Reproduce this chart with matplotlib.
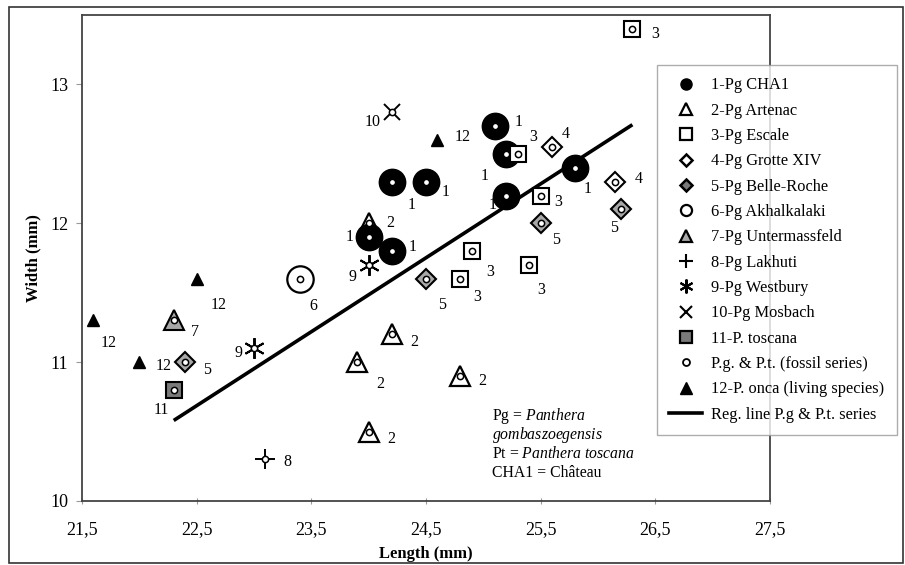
import matplotlib
matplotlib.use('Agg')
import matplotlib.pyplot as plt
from matplotlib.lines import Line2D
from matplotlib.patches import Rectangle

plt.rcParams['font.family'] = ['Liberation Serif', 'DejaVu Serif']
plt.rcParams['mathtext.fontset'] = 'custom'
plt.rcParams['mathtext.rm'] = 'Liberation Serif'
plt.rcParams['mathtext.it'] = 'Liberation Serif:italic'

# data (length, width in mm)
cha1_x = [25.1, 25.2, 24.2, 24.5, 25.2, 25.8, 24.0, 24.2]
cha1_y = [12.7, 12.5, 12.3, 12.3, 12.2, 12.4, 11.9, 11.8]
artenac_x = [24.0, 24.2, 23.9, 24.8, 24.0]
artenac_y = [12.0, 11.2, 11.0, 10.9, 10.5]
escale_x = [26.3, 25.3, 25.5, 24.9, 24.8, 25.4]
escale_y = [13.4, 12.5, 12.2, 11.8, 11.6, 11.7]
grotte_x = [25.6, 26.15]
grotte_y = [12.55, 12.3]
belle_x = [25.5, 26.2, 24.5, 22.4]
belle_y = [12.0, 12.1, 11.6, 11.0]
akhal_x = [23.4]
akhal_y = [11.6]
unterm_x = [22.3]
unterm_y = [11.3]
lakhuti_x = [23.1]
lakhuti_y = [10.3]
westbury_x = [23.0, 24.0]
westbury_y = [11.1, 11.7]
mosbach_x = [24.2]
mosbach_y = [12.8]
toscana_x = [22.3]
toscana_y = [10.8]
onca_x = [21.6, 22.0, 22.5, 24.6]
onca_y = [11.3, 11.0, 11.6, 12.6]
reg_x = [22.3, 26.3]
reg_y = [10.58, 12.71]

xticks = [21.5, 22.5, 23.5, 24.5, 25.5, 26.5, 27.5]
yticks = [10, 11, 12, 13]

# label placement next to each point (pixels, dy up)
off_cha1 = [(24, 4), (-22, -22), (20, -23), (20, -10), (-14, -9), (13, -21), (-19, 0), (21, 4)]
off_artenac = [(22, 0), (23, -8), (23, -22), (22, -5), (23, -7)]
off_escale = [(23, -5), (15, 17), (18, -6), (18, -21), (17, -18), (12, -25)]
off_grotte = [(14, 13), (24, 3)]
off_belle = [(15, -17), (-7, -19), (16, -26), (22, -8)]
off_akhal = [(13, -27)]
off_unterm = [(21, -12)]
off_lakhuti = [(22, -3)]
off_westbury = [(-16, -5), (-16, -12)]
off_mosbach = [(-19, -10)]
off_toscana = [(-12, -20)]
off_onca = [(15, -23), (24, -4), (22, -26), (25, 3)]

grey = '#a8a8a8'
dgrey = '#7a7a7a'
star = (6, 2, 0)

fig = plt.figure(figsize=(9.05, 5.65), dpi=100)
ax = fig.add_axes([82/905, 1-501/565, (770-82)/905, (501-15)/565])

ax.plot(reg_x, reg_y, color='black', lw=2.6, zorder=2, solid_capstyle='butt')

ax.plot(artenac_x, artenac_y, ls='none', marker='^', ms=15, mfc='white', mec='black', mew=1.6, zorder=3)
ax.plot(cha1_x, cha1_y, ls='none', marker='o', ms=19, mfc='black', mec='black', zorder=4)
ax.plot(escale_x, escale_y, ls='none', marker='s', ms=11, mfc='white', mec='black', mew=1.5, zorder=5)
ax.plot(grotte_x, grotte_y, ls='none', marker='D', ms=10, mfc='white', mec='black', mew=1.5, zorder=5)
ax.plot(belle_x, belle_y, ls='none', marker='D', ms=10, mfc=grey, mec='black', mew=1.5, zorder=5)
ax.plot(akhal_x, akhal_y, ls='none', marker='o', ms=19, mfc='white', mec='black', mew=1.6, zorder=5)
ax.plot(unterm_x, unterm_y, ls='none', marker='^', ms=15, mfc=grey, mec='black', mew=1.5, zorder=5)
ax.plot(lakhuti_x, lakhuti_y, ls='none', marker='+', ms=14, mec='black', mew=1.4, zorder=5)
ax.plot(westbury_x, westbury_y, ls='none', marker=star, ms=15, mec='black', mew=1.4, zorder=5)
ax.plot(mosbach_x, mosbach_y, ls='none', marker='x', ms=11, mec='black', mew=1.4, zorder=5)
ax.plot(toscana_x, toscana_y, ls='none', marker='s', ms=11, mfc=dgrey, mec='black', mew=1.5, zorder=5)
ax.plot(onca_x, onca_y, ls='none', marker='^', ms=8, mfc='black', mec='black', zorder=5)

# small circle on every fossil specimen
fossil_x = cha1_x + artenac_x + escale_x + grotte_x + belle_x + akhal_x + unterm_x + lakhuti_x + westbury_x + mosbach_x + toscana_x
fossil_y = cha1_y + artenac_y + escale_y + grotte_y + belle_y + akhal_y + unterm_y + lakhuti_y + westbury_y + mosbach_y + toscana_y
ax.plot(fossil_x, fossil_y, ls='none', marker='o', ms=4.5, mfc='white', mec='black', mew=1.1, zorder=6)

groups = [
    ('1', cha1_x, cha1_y, off_cha1),
    ('2', artenac_x, artenac_y, off_artenac),
    ('3', escale_x, escale_y, off_escale),
    ('4', grotte_x, grotte_y, off_grotte),
    ('5', belle_x, belle_y, off_belle),
    ('6', akhal_x, akhal_y, off_akhal),
    ('7', unterm_x, unterm_y, off_unterm),
    ('8', lakhuti_x, lakhuti_y, off_lakhuti),
    ('9', westbury_x, westbury_y, off_westbury),
    ('10', mosbach_x, mosbach_y, off_mosbach),
    ('11', toscana_x, toscana_y, off_toscana),
    ('12', onca_x, onca_y, off_onca),
]
for lab, xs, ys, offs in groups:
    for x, y, (dx, dy) in zip(xs, ys, offs):
        ax.annotate(lab, (x, y), xytext=(dx, dy), textcoords='offset pixels',
                    ha='center', va='center', fontsize=11.5, zorder=7)

ax.set_xlim(21.5, 27.5)
ax.set_ylim(10, 13.5)
ax.set_xticks(xticks)
ax.set_xticklabels([f'{t:.1f}'.replace('.', ',') for t in xticks])
ax.set_yticks(yticks)
ax.tick_params(axis='x', direction='inout', length=5, color='#999999', pad=12, labelsize=13)
ax.tick_params(axis='y', direction='out', length=4, color='#999999', pad=6, labelsize=13)
for s in ax.spines.values():
    s.set_color('#444444')
    s.set_linewidth(1.3)

ax.set_xlabel('Length (mm)', fontsize=12, fontweight='bold', labelpad=6)
ax.set_ylabel('Width (mm)', fontsize=12, fontweight='bold', labelpad=6)

# species note
note_lines = [r'Pg = $\it{Panthera}$', r'$\it{gombaszoegensis}$',
              r'Pt = $\it{Panthera\ toscana}$', 'CHA1 = Château']
for i, t in enumerate(note_lines):
    ax.text(492/905, 1 - (416 + 19*i)/565, t, transform=fig.transFigure,
            fontsize=11.3, ha='left', va='center')

handles = [
    Line2D([], [], ls='none', marker='o', ms=8, mfc='black', mec='black'),
    Line2D([], [], ls='none', marker='^', ms=8, mfc='white', mec='black', mew=1.6),
    Line2D([], [], ls='none', marker='s', ms=8, mfc='white', mec='black', mew=1.6),
    Line2D([], [], ls='none', marker='D', ms=6, mfc='white', mec='black', mew=1.8),
    Line2D([], [], ls='none', marker='D', ms=6, mfc=dgrey, mec='black', mew=1.8),
    Line2D([], [], ls='none', marker='o', ms=8, mfc='white', mec='black', mew=1.6),
    Line2D([], [], ls='none', marker='^', ms=8, mfc=grey, mec='black', mew=1.6),
    Line2D([], [], ls='none', marker='+', ms=10, mec='black', mew=1.5),
    Line2D([], [], ls='none', marker=star, ms=10, mec='black', mew=1.5),
    Line2D([], [], ls='none', marker='x', ms=8, mec='black', mew=1.5),
    Line2D([], [], ls='none', marker='s', ms=8, mfc=dgrey, mec='black', mew=1.6),
    Line2D([], [], ls='none', marker='o', ms=5, mfc='white', mec='black', mew=1.3),
    Line2D([], [], ls='none', marker='^', ms=8, mfc='black', mec='black'),
    Line2D([], [], color='black', lw=2.6),
]
labels = ['1-Pg CHA1', '2-Pg Artenac', '3-Pg Escale', '4-Pg Grotte XIV', '5-Pg Belle-Roche',
          '6-Pg Akhalkalaki', '7-Pg Untermassfeld', '8-Pg Lakhuti', '9-Pg Westbury',
          '10-Pg Mosbach', '11-P. toscana', 'P.g. & P.t. (fossil series)',
          '12-P. onca (living species)', 'Reg. line P.g & P.t. series']
leg = fig.legend(handles, labels, loc='upper left', bbox_to_anchor=(657/905, 1 - 65/565),
                 bbox_transform=fig.transFigure, borderaxespad=0, frameon=True, fancybox=False,
                 fontsize=11.8, labelspacing=0.57, handlelength=2.0, handletextpad=0.55,
                 borderpad=0.75)
leg.get_frame().set_edgecolor('#999999')
leg.get_frame().set_linewidth(1.0)

fig.patches.append(Rectangle((9/905, 2/565), 1 - 9/905 - 0.002, 1 - 7/565 - 2/565,
                             transform=fig.transFigure, fill=False, ec='#333333', lw=1.2))

fig.savefig('out.png', dpi=100)
